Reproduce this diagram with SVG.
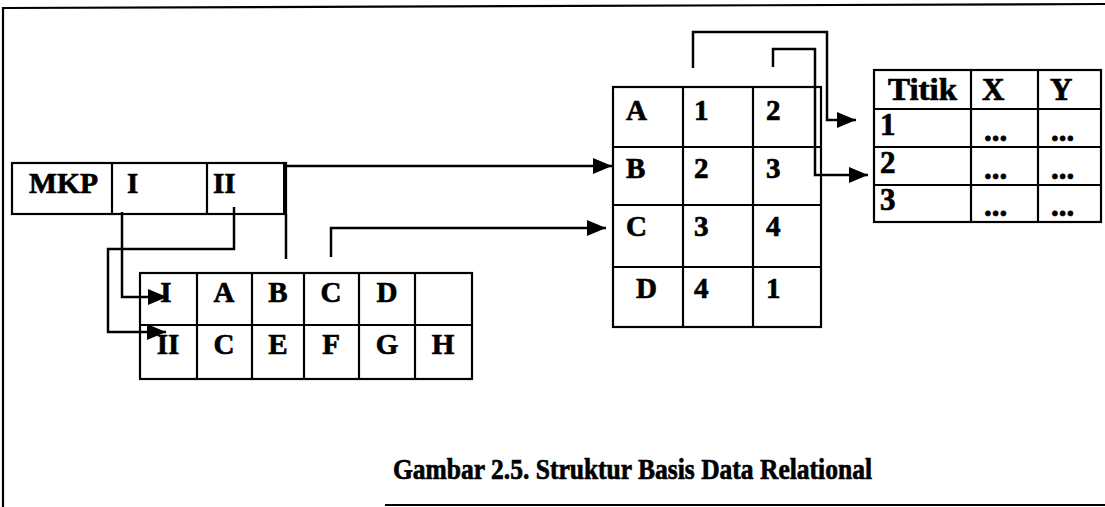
<svg xmlns="http://www.w3.org/2000/svg" width="1105" height="507" viewBox="0 0 1105 507">
<style>
.b{fill:none;stroke:#000;stroke-width:2.2}
.c{fill:none;stroke:#000;stroke-width:2.5}
.t{font-family:"Liberation Serif","Times New Roman",serif;font-weight:bold;fill:#000;stroke:#000;stroke-width:0.7}
.s27{font-size:29px}
.s30{font-size:31px}
.m{text-anchor:middle}
</style>
<defs>
<marker id="ah" markerUnits="userSpaceOnUse" markerWidth="20" markerHeight="16" refX="19" refY="8" orient="auto">
<path d="M0,0 L19,8 L0,16 Z" fill="#000"/>
</marker>
</defs>
<rect width="1105" height="507" fill="#fff"/>
<g id="frame">
<line x1="3" y1="8" x2="1105" y2="4" class="b"/>
<line x1="3" y1="7" x2="3" y2="507" class="b"/>
<line x1="385" y1="505" x2="1105" y2="505" class="b"/>
</g>
<g id="mkp">
<rect x="12" y="163" width="274" height="51" class="b"/>
<line x1="112" y1="163" x2="112" y2="214" class="b"/>
<line x1="207" y1="163" x2="207" y2="214" class="b"/>
<line x1="285" y1="163" x2="285" y2="214" stroke="#000" stroke-width="4"/>
<text x="29" y="193" class="t s27" textLength="69" lengthAdjust="spacingAndGlyphs">MKP</text>
<text x="127" y="193" class="t s27">I</text>
<text x="213" y="193" class="t s27">II</text>
</g>
<g id="tabel-bawah">
<rect x="140" y="273" width="332" height="106" class="b"/>
<line x1="140" y1="325" x2="472" y2="325" class="b"/>
<line x1="197" y1="273" x2="197" y2="379" class="b"/>
<line x1="252" y1="273" x2="252" y2="379" class="b"/>
<line x1="304" y1="273" x2="304" y2="379" class="b"/>
<line x1="359" y1="273" x2="359" y2="379" class="b"/>
<line x1="415" y1="273" x2="415" y2="379" class="b"/>
<text x="166" y="302" class="t s27 m">I</text>
<text x="224" y="302" class="t s27 m">A</text>
<text x="278" y="302" class="t s27 m">B</text>
<text x="331" y="302" class="t s27 m">C</text>
<text x="387" y="302" class="t s27 m">D</text>
<text x="168" y="354" class="t s27 m">II</text>
<text x="224" y="354" class="t s27 m">C</text>
<text x="278" y="354" class="t s27 m">E</text>
<text x="331" y="354" class="t s27 m">F</text>
<text x="387" y="354" class="t s27 m">G</text>
<text x="443" y="354" class="t s27 m">H</text>
</g>
<g id="tabel-tengah">
<rect x="613" y="87" width="208" height="240" class="b"/>
<line x1="613" y1="147" x2="821" y2="147" class="b"/>
<line x1="613" y1="205" x2="821" y2="205" class="b"/>
<line x1="613" y1="267" x2="821" y2="267" class="b"/>
<line x1="683" y1="87" x2="683" y2="327" class="b"/>
<line x1="753" y1="87" x2="753" y2="327" class="b"/>
<text x="626" y="120" class="t s27">A</text>
<text x="694" y="120" class="t s27">1</text>
<text x="766" y="120" class="t s27">2</text>
<text x="626" y="178" class="t s27">B</text>
<text x="694" y="178" class="t s27">2</text>
<text x="766" y="178" class="t s27">3</text>
<text x="626" y="236" class="t s27">C</text>
<text x="694" y="236" class="t s27">3</text>
<text x="766" y="236" class="t s27">4</text>
<text x="636" y="298" class="t s27">D</text>
<text x="694" y="298" class="t s27">4</text>
<text x="766" y="298" class="t s27">1</text>
</g>
<g id="tabel-titik">
<rect x="874" y="70" width="227" height="152" class="b"/>
<line x1="874" y1="109" x2="1101" y2="109" class="b"/>
<line x1="874" y1="147" x2="1101" y2="147" class="b"/>
<line x1="874" y1="185" x2="1101" y2="185" class="b"/>
<line x1="971" y1="70" x2="971" y2="222" class="b"/>
<line x1="1038" y1="70" x2="1038" y2="222" class="b"/>
<text x="888" y="100" class="t s30" textLength="69" lengthAdjust="spacingAndGlyphs">Titik</text>
<text x="982" y="100" class="t s30">X</text>
<text x="1050" y="100" class="t s30">Y</text>
<text x="880" y="135" class="t s30">1</text>
<text x="880" y="173" class="t s30">2</text>
<text x="880" y="210" class="t s30">3</text>
<text x="984" y="141" class="t s30">...</text>
<text x="1051" y="141" class="t s30">...</text>
<text x="984" y="179" class="t s30">...</text>
<text x="1051" y="179" class="t s30">...</text>
<text x="984" y="216" class="t s30">...</text>
<text x="1051" y="216" class="t s30">...</text>
</g>
<g id="connectors">
<polyline points="287,166 612,166" class="c" marker-end="url(#ah)"/>
<line x1="286" y1="214" x2="286" y2="259" class="c"/>
<polyline points="122,212 122,297 167,297" class="c" marker-end="url(#ah)"/>
<polyline points="234,207 234,249 108,249 108,332 166,332" class="c" marker-end="url(#ah)"/>
<polyline points="331,257 331,228 606,228" class="c" marker-end="url(#ah)"/>
<polyline points="693,68 693,32 827,32 827,120 856,120" class="c" marker-end="url(#ah)"/>
<polyline points="773,67 773,49 815,49 815,175 868,175" class="c" marker-end="url(#ah)"/>
</g>
<text x="393" y="479" class="t" font-size="30" textLength="479" lengthAdjust="spacingAndGlyphs">Gambar 2.5. Struktur Basis Data Relational</text>
</svg>
